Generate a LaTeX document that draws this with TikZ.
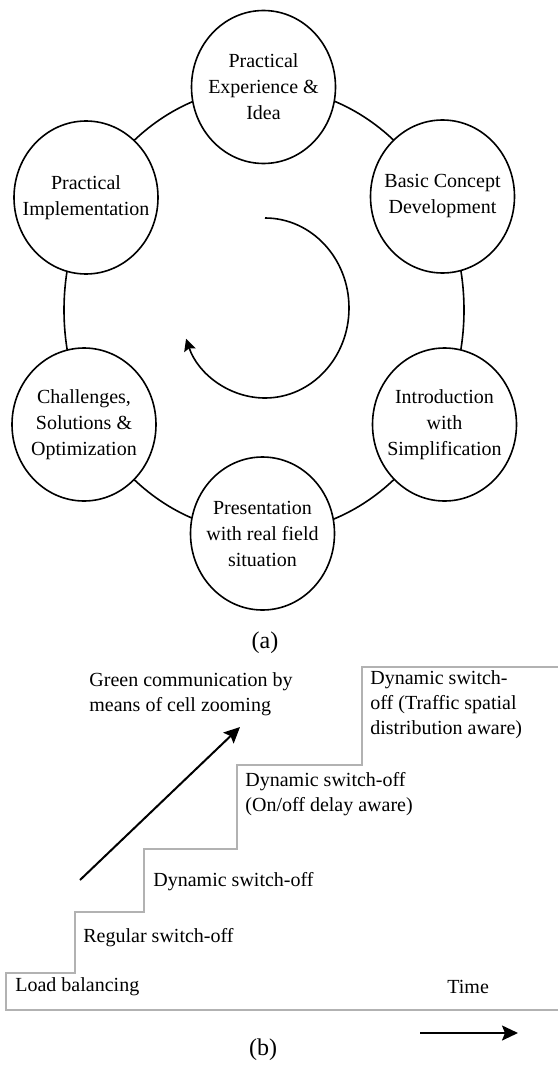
\documentclass[tikz,border=0pt]{standalone}
\usepackage{fontspec}
\setmainfont{Liberation Serif}
\usepackage{tikz}
\usetikzlibrary{positioning}
\usetikzlibrary{shapes.geometric,arrows.meta}
\tikzset{stage/.style={ellipse,draw,fill=white,line width=0.8pt,minimum width=72pt,minimum height=76.5pt,
      inner sep=0pt}}
\tikzset{stagetext/.style={align=center,inner sep=0pt,font=\fontsize{10}{13}\selectfont}}
\tikzset{stairtext/.style={anchor=west,inner sep=0pt,align=left,font=\fontsize{10}{12.5}\selectfont}}
\tikzset{bigarrow/.style={line width=1pt,-{Stealth[length=8pt,width=7.5pt,inset=1.5pt]}}}

\begin{document}
\begin{tikzpicture}[x=0.5pt,y=0.5pt]
	\useasboundingbox (0,0) rectangle (558,-1070);

	\coordinate (mid) at (264,-310);
	\draw[line width=0.8pt] (mid) ellipse [x radius=200, y radius=223];

	\node[stage,label={[stagetext]center:Practical\\Experience \&\\Idea}] (exp) at (263.5,-87) {};
	\node[stage,label={[stagetext]center:Basic Concept\\Development}] (con) at (442.5,-196.5) {};
	\node[stage,label={[stagetext]center:Introduction\\with\\Simplification}] (intro) at (444.5,-424.5) {};
	\node[stage,label={[stagetext]center:Presentation\\with real field\\situation}] (pres) at (262.5,-533.5) {};
	\node[stage,label={[stagetext]center:Challenges,\\Solutions \&\\Optimization}] (chal) at (84,-424.5) {};
	\node[stage,label={[stagetext]center:Practical\\Implementation}] (impl) at (86,-197.5) {};

	\draw[line width=0.8pt,-{Stealth[length=6pt,width=6pt,inset=1pt]}] (265,-218) arc[start angle=90, end angle=-160, x radius=84, y radius=90];

	\node [font=\fontsize{12}{14}\selectfont] (la) at (265,-643) {(a)};

	\draw[gray!60, line width=1.2pt] (558,-1010) -- (6,-1010) -- (6,-973) -- (75,-973) -- (75,-912) -- (144,-912)
		-- (144,-849) -- (237,-849) -- (237,-765) -- (362,-765) -- (362,-667) -- (558,-667);

	\node[stairtext] (lb) at (15,-987) {Load balancing};
	\node[stairtext] (time) at (447,-987) {Time};
	\node[stairtext] (reg) at (83,-938) {Regular switch-off};
	\node[stairtext] (dyn) at (153,-882) {Dynamic switch-off};
	\node[stairtext] (dyndel) at (245,-794.5) {Dynamic switch-off\\(On/off delay aware)};
	\node[stairtext] (dyntraf) at (370,-705) {Dynamic switch-\\off (Traffic spatial\\distribution aware)};
	\node[stairtext] (green) at (89,-694.5) {Green communication by\\means of cell zooming};

	\coordinate (g0) at (80,-880);
	\coordinate (g1) at (240,-727);
	\draw[bigarrow] (g0) -- (g1);

	\coordinate (t0) at (420,-1033);
	\coordinate (t1) at (518,-1033);
	\draw[bigarrow] (t0) -- (t1);

	\node [font=\fontsize{12}{14}\selectfont] (lbl) at (263,-1050) {(b)};
\end{tikzpicture}
\end{document}
